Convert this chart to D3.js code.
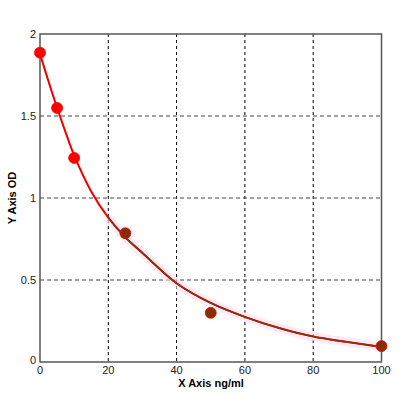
<!DOCTYPE html>
<meta charset="utf-8">
<style>
  body { margin: 0; background: #fff; }
  text { font-family: Arial, "Liberation Sans", sans-serif; }
</style>
<body>
<script src="https://d3js.org/d3.v7.min.js"></script>
<script>
  // standard points
  var conc = [0, 5, 10, 25, 50, 100];
  var od = [1.886, 1.549, 1.244, 0.785, 0.30, 0.097];
  var pointColor = ["red", "red", "red", "brown", "brown", "brown"];

  // fitted curve
  var curveX = [0, 2.5, 5, 7.5, 10, 15, 20, 25, 30, 40, 50, 60, 70, 80, 90, 100];
  var curveY = [1.88, 1.71, 1.55, 1.40, 1.26, 1.04, 0.88, 0.76, 0.665, 0.48, 0.36, 0.275, 0.207, 0.155, 0.122, 0.092];

  var xTicks = [0, 20, 40, 60, 80, 100];
  var yTicks = [0, 0.5, 1, 1.5, 2];

  var width = 407, height = 396;

  var x = d3.scaleLinear().domain([0, 100]).range([40, 381.5]);
  var y = d3.scaleLinear().domain([0, 2]).range([362, 34]);

  var svg = d3.select("body").append("svg")
      .attr("width", width)
      .attr("height", height);

  // grid
  svg.selectAll(".vgrid")
      .data(xTicks.slice(1, -1))
    .enter().append("line")
      .attr("x1", function(d) { return x(d); })
      .attr("x2", function(d) { return x(d); })
      .attr("y1", y(2))
      .attr("y2", y(0))
      .attr("stroke", "#000")
      .attr("stroke-dasharray", "3,3");

  svg.selectAll(".hgrid")
      .data(yTicks.slice(1, -1))
    .enter().append("line")
      .attr("x1", x(0))
      .attr("x2", x(100))
      .attr("y1", function(d) { return y(d); })
      .attr("y2", function(d) { return y(d); })
      .attr("stroke", "#444")
      .attr("stroke-dasharray", "4,3");

  // frame
  svg.append("rect")
      .attr("x", x(0))
      .attr("y", y(2))
      .attr("width", x(100) - x(0))
      .attr("height", y(0) - y(2))
      .attr("fill", "none")
      .attr("stroke", "#555")
      .attr("stroke-width", 1.5);

  var curveData = curveX.map(function(d, i) { return [d, curveY[i]]; });
  var line = d3.line()
      .x(function(d) { return x(d[0]); })
      .y(function(d) { return y(d[1]); })
      .curve(d3.curveCatmullRom.alpha(0.5));

  // pink halo on lower part
  svg.append("path")
      .datum(curveData.filter(function(d) { return d[0] >= 20; }))
      .attr("d", line)
      .attr("fill", "none")
      .attr("stroke", "#ffd9f2")
      .attr("stroke-opacity", 0.6)
      .attr("stroke-width", 9);

  svg.append("path")
      .datum(curveData)
      .attr("d", line)
      .attr("fill", "none")
      .attr("stroke", "#ee0000")
      .attr("stroke-width", 2);

  svg.append("path")
      .datum(curveData.filter(function(d) { return d[0] >= 20; }))
      .attr("d", line)
      .attr("fill", "none")
      .attr("stroke", "#7a3a0a")
      .attr("stroke-width", 1.6);

  // points
  svg.selectAll(".pt")
      .data(conc)
    .enter().append("circle")
      .attr("cx", function(d) { return x(d); })
      .attr("cy", function(d, i) { return y(od[i]); })
      .attr("r", 5.5)
      .attr("fill", function(d, i) { return pointColor[i] == "red" ? "#ff0000" : "#8b2c00"; })
      .attr("stroke", function(d, i) { return pointColor[i] == "red" ? "#ff0000" : "#d01010"; })
      .attr("stroke-width", 0.8);

  // tick labels
  svg.selectAll(".xl")
      .data(xTicks)
    .enter().append("text")
      .attr("x", function(d) { return x(d); })
      .attr("y", 374)
      .attr("text-anchor", "middle")
      .attr("font-size", 11)
      .attr("fill", "#222")
      .text(function(d) { return d; });

  svg.selectAll(".yl")
      .data(yTicks)
    .enter().append("text")
      .attr("x", 36)
      .attr("y", function(d) { return d == 0 ? y(d) + 2 : y(d) + 4; })
      .attr("text-anchor", "end")
      .attr("font-size", 11)
      .attr("fill", "#222")
      .text(function(d) { return d; });

  svg.append("text")
      .attr("x", 211)
      .attr("y", 387)
      .attr("text-anchor", "middle")
      .attr("font-size", 11)
      .attr("font-weight", "bold")
      .text("X Axis ng/ml");

  svg.append("text")
      .attr("transform", "translate(16,198) rotate(-90)")
      .attr("text-anchor", "middle")
      .attr("font-size", 11)
      .attr("font-weight", "bold")
      .text("Y Axis OD");
</script>
</body>
